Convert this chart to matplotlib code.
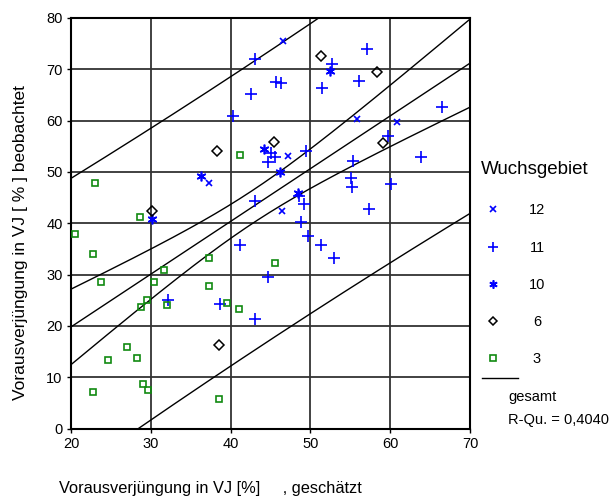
import numpy as np
import matplotlib
matplotlib.use("Agg")
import matplotlib.pyplot as plt
from matplotlib.lines import Line2D

plt.rcParams['font.family'] = ['Liberation Sans', 'DejaVu Sans']

# --- observations per growth region (estimated %, observed %) ---
g12_x = [37.3, 46.6, 55.8, 60.9, 47.2, 46.5]
g12_y = [47.9, 75.5, 60.3, 59.8, 53.2, 42.3]

g11_x = [43.0, 42.5, 40.3, 44.7, 43.1, 57.1, 52.7, 45.7, 46.3, 56.1, 51.5,
         66.5, 59.7, 45.1, 45.6, 49.5, 55.4, 63.9, 55.1, 55.2, 60.1, 48.6,
         49.2, 57.3, 48.8, 49.7, 51.3, 52.9, 44.7, 41.2, 32.2, 38.7, 43.1]
g11_y = [72.0, 65.1, 60.9, 52.0, 44.4, 73.9, 71.0, 67.6, 67.3, 67.8, 66.4,
         62.7, 57.0, 53.6, 52.9, 54.1, 52.1, 53.0, 48.8, 47.0, 47.7, 45.3,
         43.7, 42.7, 40.3, 37.5, 35.8, 33.3, 29.6, 35.8, 25.0, 24.3, 21.3]

g10_x = [36.3, 44.2, 52.5, 46.2, 48.4, 30.2]
g10_y = [49.3, 54.4, 69.7, 49.9, 45.8, 40.8]

g6_x = [38.3, 30.2, 51.3, 58.3, 59.1, 45.4, 38.5]
g6_y = [54.0, 42.4, 72.6, 69.4, 55.6, 55.9, 16.3]

g3_x = [23.0, 41.2, 28.7, 20.5, 22.7, 37.3, 31.7, 23.8, 30.4, 37.3, 29.5,
        28.8, 32.0, 39.6, 41.0, 27.0, 24.6, 28.3, 29.0, 29.6, 22.7, 38.5, 45.6]
g3_y = [47.9, 53.3, 41.3, 37.9, 34.1, 33.3, 30.8, 28.6, 28.6, 27.7, 25.1,
        23.7, 24.0, 24.5, 23.2, 15.8, 13.4, 13.7, 8.6, 7.5, 7.1, 5.7, 32.3]

# --- overall linear fit ("gesamt") with confidence and prediction bands ---
fit_b0 = -0.76
fit_b1 = 1.028
fit_n = 76
fit_xmean = 42.7
fit_sxx = 9224.0
fit_ts = 28.0          # t-quantile times residual standard error
r_squared = "0,4040"

xticks = [20, 30, 40, 50, 60, 70]
yticks = [0, 10, 20, 30, 40, 50, 60, 70, 80]

W, H = 610, 500
fig = plt.figure(figsize=(W / 100, H / 100), dpi=100)


def fx(px):
    return px / W


def fy(py):
    return 1 - py / H


ax = fig.add_axes([fx(71), fy(428.5), fx(470) - fx(71), fy(18) - fy(428.5)])
ax.set_xlim(20, 70)
ax.set_ylim(0, 80)
ax.set_xticks(xticks)
ax.set_yticks(yticks)
ax.tick_params(labelsize=10.5, length=3, width=1, direction='out', pad=3)
ax.grid(True, color='#333333', lw=1.3)
ax.set_axisbelow(True)
for s in ax.spines.values():
    s.set_linewidth(1.5)
    s.set_color('black')

# regression lines
xs = np.linspace(20, 70, 200)
yfit = fit_b0 + fit_b1 * xs
ci = fit_ts * np.sqrt(1 / fit_n + (xs - fit_xmean) ** 2 / fit_sxx)
pi = fit_ts * np.sqrt(1 + 1 / fit_n + (xs - fit_xmean) ** 2 / fit_sxx)
for yy in (yfit, yfit + ci, yfit - ci, yfit + pi, yfit - pi):
    ax.plot(xs, yy, color='black', lw=1.0, zorder=3)

blue = '#0000ff'
green = '#108a10'
aster = (6, 2, 0)
styles = [
    ('12', g12_x, g12_y, dict(marker='x', color=blue, ms=5, mew=1.2, mfc='none')),
    ('11', g11_x, g11_y, dict(marker='+', color=blue, ms=8, mew=1.2, mfc='none')),
    ('10', g10_x, g10_y, dict(marker=aster, color=blue, ms=7, mew=1.2, mfc='none')),
    ('6', g6_x, g6_y, dict(marker='D', color='black', ms=5, mew=1.1, mfc='none')),
    ('3', g3_x, g3_y, dict(marker='s', color=green, ms=4.5, mew=1.2, mfc='none')),
]
for lab, xv, yv, st in styles:
    ax.plot(xv, yv, ls='none', zorder=4, clip_on=False, **st)

# axis labels
fig.text(fx(59), fy(489), 'Vorausverjüngung in VJ [%]     , geschätzt',
         fontsize=11.75, ha='left', va='center')
fig.text(fx(21), fy(243), 'Vorausverjüngung in VJ [ % ] beobachtet',
         fontsize=12.5, rotation=90, ha='center', va='center')

# legend
fig.text(fx(481), fy(169), 'Wuchsgebiet', fontsize=13.5, ha='left', va='center')
rows_y = [210, 248, 285, 322, 359]
for (lab, _, _, st), py in zip(styles, rows_y):
    st2 = dict(st)
    st2['ms'] = st2['ms'] * 0.85
    fig.add_artist(Line2D([fx(493)], [fy(py - 1)], ls='none', **st2))
    fig.text(fx(537), fy(py), lab, fontsize=10.5, ha='center', va='center')
fig.add_artist(Line2D([fx(482), fx(518)], [fy(378), fy(378)], color='black', lw=1.0))
fig.text(fx(508), fy(397), 'gesamt', fontsize=10.5, ha='left', va='center')
fig.text(fx(508), fy(420), 'R-Qu. = ' + r_squared, fontsize=10.5, ha='left', va='center')

fig.savefig('out.png', dpi=100)
